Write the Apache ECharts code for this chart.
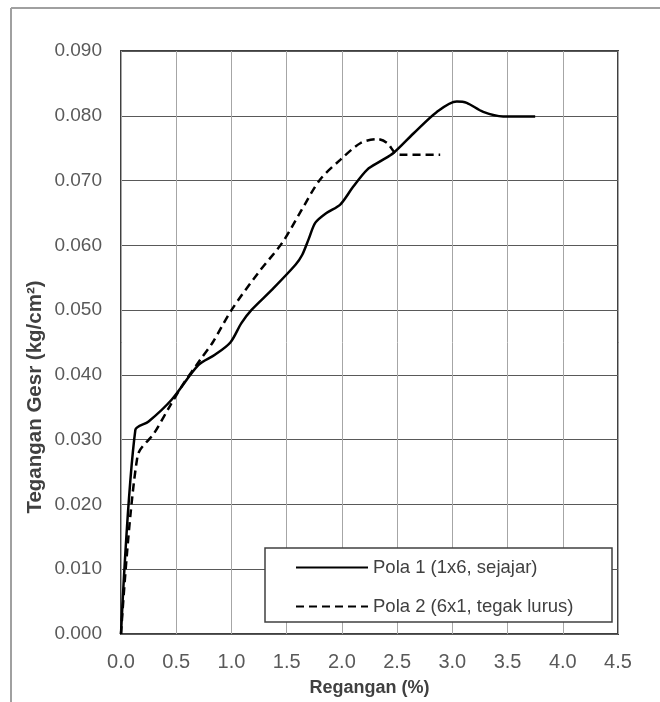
<!DOCTYPE html>
<html>
<head>
<meta charset="utf-8">
<script src="https://cdn.jsdelivr.net/npm/echarts@6/dist/echarts.min.js"></script>
<style>html,body{margin:0;padding:0;background:#fff;}#chart{width:660px;height:702px;}</style>
</head>
<body>
<div id="chart"></div>
<script>
// Data
var seriesNames = ['Pola 1 (1x6, sejajar)', 'Pola 2 (6x1, tegak lurus)'];
var pola1Strain = [0, 0.13, 0.25, 0.46, 0.70, 0.85, 0.99, 1.09, 1.18, 1.37, 1.58, 1.64, 1.70, 1.76, 1.86, 1.985, 2.10, 2.23, 2.35, 2.47, 2.65, 2.86, 3.04, 3.13, 3.28, 3.46, 3.75];
var pola1Stress = [0, 0.0315, 0.0328, 0.0362, 0.0415, 0.0431, 0.0450, 0.0480, 0.0500, 0.0532, 0.0570, 0.0585, 0.0610, 0.0635, 0.0650, 0.0663, 0.0690, 0.0717, 0.0730, 0.0743, 0.0773, 0.0806, 0.0822, 0.0820, 0.0806, 0.0799, 0.0799];
var pola2Strain = [0, 0.15, 0.30, 0.44, 0.56, 0.72, 0.83, 1.00, 1.24, 1.46, 1.62, 1.80, 1.985, 2.17, 2.32, 2.41, 2.48, 2.53, 2.89];
var pola2Stress = [0, 0.0275, 0.0310, 0.0351, 0.0385, 0.0424, 0.0450, 0.0500, 0.0557, 0.0604, 0.0650, 0.0701, 0.0732, 0.0758, 0.0764, 0.0758, 0.0743, 0.0740, 0.0740];
var xTitle = 'Regangan (%)';
var yTitle = 'Tegangan Gesr (kg/cm²)';

function pairs(xs, ys) { return xs.map(function (x, i) { return [x, ys[i]]; }); }

var chart = echarts.init(document.getElementById('chart'), null, { renderer: 'canvas' });
var FONT = 'Liberation Sans';
chart.setOption({
  animation: false,
  backgroundColor: '#ffffff',
  grid: { left: 121, top: 51, right: 42, bottom: 67, show: true, borderColor: '#404040', borderWidth: 2, backgroundColor: 'transparent' },
  xAxis: {
    type: 'value', min: 0, max: 4.5, interval: 0.5,
    name: xTitle, nameLocation: 'middle', nameGap: 45,
    nameTextStyle: { fontFamily: FONT, fontSize: 18, fontWeight: 'bold', color: '#404040' },
    axisLine: { show: false }, axisTick: { show: false },
    axisLabel: { fontFamily: FONT, fontSize: 20, color: '#595959', margin: 18, formatter: function (v) { return v.toFixed(1); } },
    splitLine: { show: true, lineStyle: { color: '#a6a6a6', width: 1 } }
  },
  yAxis: {
    type: 'value', min: 0, max: 0.09, interval: 0.01,
    axisLine: { show: false }, axisTick: { show: false },
    axisLabel: { fontFamily: FONT, fontSize: 19, color: '#595959', margin: 19, formatter: function (v) { return v.toFixed(3); } },
    splitLine: { show: true, lineStyle: { color: '#595959', width: 1 } }
  },
  legend: {
    orient: 'vertical', left: 295, top: 558, padding: 0,
    itemWidth: 72, itemHeight: 20, itemGap: 20, z: 20,
    itemStyle: { opacity: 0 },
    textStyle: { fontFamily: FONT, fontSize: 18.5, color: '#404040' },
    data: seriesNames
  },
  graphic: [
    { type: 'line', z: 1, shape: { x1: 11, y1: 8, x2: 660, y2: 8 }, style: { stroke: '#a0a0a0', lineWidth: 2 } },
    { type: 'line', z: 1, shape: { x1: 11, y1: 8, x2: 11, y2: 702 }, style: { stroke: '#a0a0a0', lineWidth: 2 } },
    { type: 'rect', z: 10, shape: { x: 265, y: 548, width: 347, height: 74 }, style: { fill: '#ffffff', stroke: '#404040', lineWidth: 1.5 } },
    { type: 'text', z: 10, x: 35, y: 397, rotation: Math.PI / 2,
      style: { text: yTitle, fontFamily: FONT, fontSize: 20.5, fontWeight: 'bold', fill: '#404040', align: 'center', verticalAlign: 'middle' } }
  ],
  series: [
    { name: seriesNames[0], type: 'line', symbol: 'none', smooth: 0.3, data: pairs(pola1Strain, pola1Stress),
      lineStyle: { color: '#000000', width: 2.5, type: 'solid' }, itemStyle: { color: '#000000' } },
    { name: seriesNames[1], type: 'line', symbol: 'none', smooth: 0.3, data: pairs(pola2Strain, pola2Stress),
      lineStyle: { color: '#000000', width: 2.5, type: [8, 5] }, itemStyle: { color: '#000000' } }
  ]
});
</script>
</body>
</html>
